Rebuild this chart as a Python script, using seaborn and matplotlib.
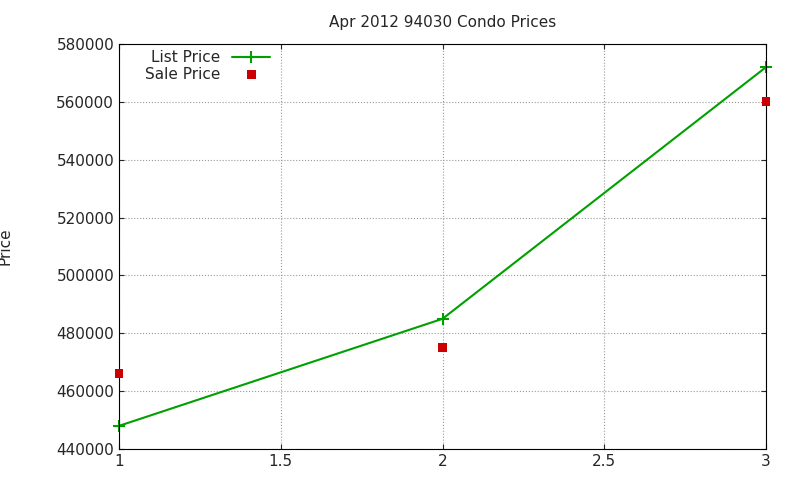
import matplotlib
matplotlib.use("Agg")
import matplotlib.pyplot as plt
import seaborn as sns
import pandas as pd

x = [1, 2, 3]
list_price = [448000, 485000, 572000]
sale_price = [466000, 475000, 560000]

sns.set_style("ticks")
plt.rcParams['font.family'] = ['DejaVu Sans']

fig = plt.figure(figsize=(8, 4.8), dpi=100)
ax = fig.add_axes([119/800, 1-449/480, (766-119)/800, (449-44)/480])

df = pd.DataFrame({"x": x, "list": list_price, "sale": sale_price})
sns.lineplot(data=df, x="x", y="list", color="#00a000", marker="+", markersize=8,
             markeredgewidth=1.5, markeredgecolor="#00a000", linewidth=1.5,
             label="List Price", ax=ax, clip_on=False)
sns.scatterplot(data=df, x="x", y="sale", color="#cc0000", marker="s", s=40,
                edgecolor="none", label="Sale Price", ax=ax, zorder=3, clip_on=False)

ax.set_xlim(1, 3)
ax.set_ylim(440000, 580000)
ax.set_xticks([1, 1.5, 2, 2.5, 3])
ax.set_xticklabels(["1", "1.5", "2", "2.5", "3"])
ax.set_yticks(range(440000, 580001, 20000))
ax.grid(True, color="#999999", linestyle=":", linewidth=0.8)
ax.tick_params(direction="in", labelsize=11, top=True, right=True)
for s in ax.spines.values():
    s.set_color("black")
ax.set_xlabel("")
ax.set_ylabel("Price", fontsize=11)
ax.yaxis.set_label_coords(-0.165, 0.5)
ax.set_title("Apr 2012 94030 Condo Prices", fontsize=11, pad=12)
ax.legend(loc="upper left", frameon=False, markerfirst=False, fontsize=11,
          handlelength=2.5, borderaxespad=0.0, labelspacing=0.1,
          bbox_to_anchor=(0.03, 1.0))

fig.savefig("out.png", dpi=100)
